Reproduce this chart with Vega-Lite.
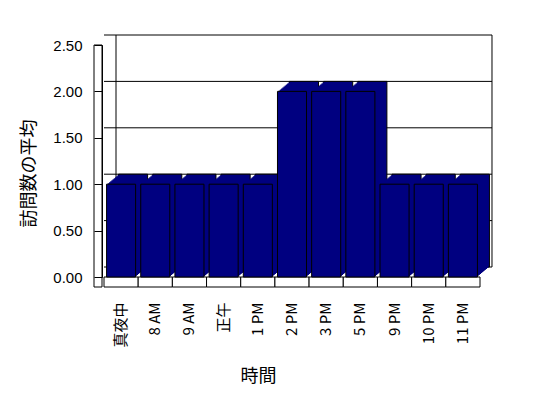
{
  "$schema": "https://vega.github.io/schema/vega-lite/v6.json",
  "width": 376,
  "height": 232,
  "autosize": {"type": "none"},
  "padding": {"left": 104, "top": 45, "right": 68, "bottom": 121},
  "background": "white",
  "config": {"view": {"stroke": null}, "font": "Noto Sans CJK JP"},
  "datasets": {
    "visits": [
      {"hour": "真夜中", "value": 1},
      {"hour": "8 AM", "value": 1},
      {"hour": "9 AM", "value": 1},
      {"hour": "正午", "value": 1},
      {"hour": "1 PM", "value": 1},
      {"hour": "2 PM", "value": 2},
      {"hour": "3 PM", "value": 2},
      {"hour": "5 PM", "value": 2},
      {"hour": "9 PM", "value": 1},
      {"hour": "10 PM", "value": 1},
      {"hour": "11 PM", "value": 1}
    ],
    "grid": [{"v": 0}, {"v": 0.5}, {"v": 1}, {"v": 1.5}, {"v": 2}, {"v": 2.5}],
    "wall": [
      {"hour": "真夜中", "lo": 0, "hi": 2.5, "side": "left"},
      {"hour": "11 PM", "lo": 0, "hi": 2.5, "side": "right"}
    ]
  },
  "data": {"name": "visits"},
  "layer": [
    {
      "mark": {"type": "bar", "fill": "white", "stroke": "black", "strokeWidth": 1, "width": {"band": 1}, "y2Offset": 10},
      "encoding": {
        "x": {
          "field": "hour",
          "type": "nominal",
          "sort": null,
          "scale": {"domain": ["真夜中", "8 AM", "9 AM", "正午", "1 PM", "2 PM", "3 PM", "5 PM", "9 PM", "10 PM", "11 PM"], "paddingInner": 0, "paddingOuter": 0},
          "axis": {
            "title": "時間",
            "domain": false,
            "ticks": false,
            "tickSize": 0,
            "labelAngle": -90,
            "labelAlign": "right",
            "labelBaseline": "middle",
            "labelPadding": 25,
            "labelFont": "Noto Sans CJK JP",
            "labelFontSize": 15,
            "labelColor": "black",
            "labelOverlap": false,
            "titleFont": "Noto Sans CJK JP",
            "titleFontSize": 18,
            "titleFontWeight": "normal",
            "titleColor": "black",
            "titlePadding": 20,
            "titleX": 154
          }
        },
        "y": {
          "datum": 0,
          "type": "quantitative",
          "scale": {"domain": [0, 2.5], "nice": false},
          "axis": {
            "title": "訪問数の平均",
            "values": [0, 0.5, 1, 1.5, 2, 2.5],
            "format": ".2f",
            "grid": false,
            "offset": 2,
            "domain": true,
            "domainColor": "black",
            "tickColor": "black",
            "tickSize": 8,
            "labelPadding": 12,
            "labelFont": "Liberation Sans",
            "labelFontSize": 15,
            "labelColor": "black",
            "titleFont": "Noto Sans CJK JP",
            "titleFontSize": 18,
            "titleFontWeight": "normal",
            "titleColor": "black",
            "titlePadding": 14,
            "titleY": 128,
            "zindex": 2
          }
        },
        "y2": {"datum": 0}
      }
    },
    {
      "data": {"name": "grid"},
      "mark": {"type": "rule", "stroke": "black", "strokeWidth": 1, "xOffset": 12, "x2Offset": 12, "yOffset": -10, "y2Offset": -10},
      "encoding": {
        "y": {"field": "v", "type": "quantitative"}
      }
    },
    {
      "data": {"name": "wall"},
      "transform": [{"filter": "datum.side == 'left'"}],
      "mark": {"type": "rule", "stroke": "black", "strokeWidth": 1, "xOffset": -5.09, "yOffset": -10, "y2Offset": -10},
      "encoding": {
        "x": {"field": "hour", "type": "nominal"},
        "y": {"field": "hi", "type": "quantitative"},
        "y2": {"field": "lo"}
      }
    },
    {
      "data": {"name": "wall"},
      "transform": [{"filter": "datum.side == 'right'"}],
      "mark": {"type": "rule", "stroke": "black", "strokeWidth": 1, "xOffset": 29.09, "yOffset": -10, "y2Offset": -10},
      "encoding": {
        "x": {"field": "hour", "type": "nominal"},
        "y": {"field": "hi", "type": "quantitative"},
        "y2": {"field": "lo"}
      }
    },
    {
      "data": {"name": "wall"},
      "transform": [{"filter": "datum.side == 'left'"}],
      "mark": {"type": "bar", "fill": "white", "stroke": "black", "strokeWidth": 1, "width": 8, "xOffset": -23.09, "y2Offset": 10},
      "encoding": {
        "x": {"field": "hour", "type": "nominal"},
        "y": {"field": "hi", "type": "quantitative"},
        "y2": {"field": "lo"}
      }
    },
    {
      "encoding": {
        "x": {"field": "hour", "type": "nominal"},
        "y": {"field": "value", "type": "quantitative"}
      },
      "layer": [
        {"mark": {"type": "bar", "fill": "#000080", "stroke": "black", "strokeWidth": 1, "width": {"band": 0.85}, "xOffset": 12, "yOffset": -10, "y2Offset": -10}},
        {"mark": {"type": "bar", "fill": "#000080", "strokeWidth": 0, "width": {"band": 0.85}, "xOffset": 10.8, "yOffset": -9, "y2Offset": -9}},
        {"mark": {"type": "bar", "fill": "#000080", "strokeWidth": 0, "width": {"band": 0.85}, "xOffset": 9.6, "yOffset": -8, "y2Offset": -8}},
        {"mark": {"type": "bar", "fill": "#000080", "strokeWidth": 0, "width": {"band": 0.85}, "xOffset": 8.4, "yOffset": -7, "y2Offset": -7}},
        {"mark": {"type": "bar", "fill": "#000080", "strokeWidth": 0, "width": {"band": 0.85}, "xOffset": 7.2, "yOffset": -6, "y2Offset": -6}},
        {"mark": {"type": "bar", "fill": "#000080", "strokeWidth": 0, "width": {"band": 0.85}, "xOffset": 6, "yOffset": -5, "y2Offset": -5}},
        {"mark": {"type": "bar", "fill": "#000080", "strokeWidth": 0, "width": {"band": 0.85}, "xOffset": 4.8, "yOffset": -4, "y2Offset": -4}},
        {"mark": {"type": "bar", "fill": "#000080", "strokeWidth": 0, "width": {"band": 0.85}, "xOffset": 3.6, "yOffset": -3, "y2Offset": -3}},
        {"mark": {"type": "bar", "fill": "#000080", "strokeWidth": 0, "width": {"band": 0.85}, "xOffset": 2.4, "yOffset": -2, "y2Offset": -2}},
        {"mark": {"type": "bar", "fill": "#000080", "strokeWidth": 0, "width": {"band": 0.85}, "xOffset": 1.2, "yOffset": -1, "y2Offset": -1}},
        {"mark": {"type": "bar", "fill": "#000080", "stroke": "black", "strokeWidth": 1, "width": {"band": 0.85}}}
      ]
    }
  ]
}
